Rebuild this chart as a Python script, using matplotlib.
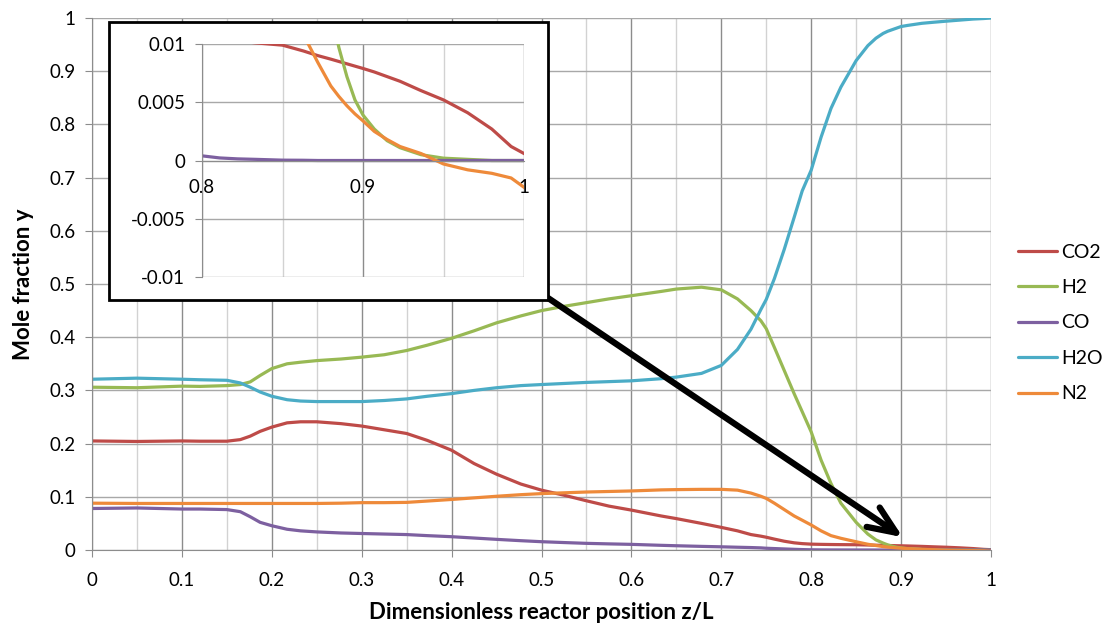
import matplotlib
matplotlib.use("Agg")
import matplotlib.pyplot as plt
from matplotlib.patches import Rectangle
from matplotlib.ticker import MultipleLocator, FuncFormatter

plt.rcParams["font.family"] = ["Lato", "DejaVu Sans"]

# Dimensionless reactor position z/L (shared by all species)
z = [0, 0.05, 0.1, 0.12, 0.15, 0.165, 0.176, 0.187, 0.2, 0.217, 0.232, 0.25,
     0.277, 0.3, 0.325, 0.35, 0.373, 0.4, 0.425, 0.45, 0.477, 0.5, 0.525,
     0.55, 0.575, 0.6, 0.633, 0.65, 0.678, 0.7, 0.718, 0.733, 0.744, 0.75,
     0.759, 0.77, 0.781, 0.79, 0.8, 0.811, 0.822, 0.833, 0.85, 0.863, 0.872,
     0.88, 0.885, 0.89, 0.895, 0.9, 0.907, 0.915, 0.923, 0.936, 0.95, 0.965,
     0.98, 0.992, 1.0]

# Mole fractions
y_co2 = [0.205, 0.204, 0.205, 0.2045, 0.2045, 0.2075, 0.214, 0.223, 0.231,
         0.239, 0.241, 0.241, 0.2375, 0.233, 0.226, 0.219, 0.206, 0.1875,
         0.1625, 0.1425, 0.124, 0.1125, 0.103, 0.0925, 0.0825, 0.075, 0.064,
         0.059, 0.050, 0.0425, 0.036, 0.029, 0.026, 0.024, 0.0205, 0.0165,
         0.0135, 0.012, 0.011, 0.0106, 0.0103, 0.0101, 0.0099, 0.0094, 0.0090,
         0.0087, 0.0085, 0.0083, 0.0081, 0.0079, 0.0076, 0.0072, 0.0068,
         0.0060, 0.0052, 0.0041, 0.0027, 0.0012, 0.0006]
y_h2 = [0.306, 0.305, 0.308, 0.3075, 0.309, 0.311, 0.316, 0.328, 0.341, 0.350,
        0.353, 0.356, 0.359, 0.3625, 0.367, 0.375, 0.385, 0.398, 0.412, 0.427,
        0.440, 0.450, 0.458, 0.465, 0.472, 0.478, 0.486, 0.4905, 0.494, 0.489,
        0.472, 0.450, 0.431, 0.416, 0.381, 0.3375, 0.294, 0.26, 0.222, 0.169,
        0.125, 0.088, 0.052, 0.030, 0.019, 0.013, 0.0097, 0.0072, 0.0052,
        0.0039, 0.0027, 0.0017, 0.0011, 0.0005, 0.0002, 0.0001, 0.0, 0.0, 0.0]
y_co = [0.078, 0.079, 0.077, 0.077, 0.076, 0.072, 0.0625, 0.052, 0.0456,
        0.039, 0.036, 0.034, 0.032, 0.031, 0.030, 0.029, 0.027, 0.025, 0.0225,
        0.020, 0.0175, 0.0156, 0.014, 0.0125, 0.0115, 0.0106, 0.0088, 0.008,
        0.0068, 0.006, 0.0052, 0.0046, 0.0040, 0.0033, 0.0027, 0.0020, 0.0013,
        0.0008, 0.0004, 0.00022, 0.00014, 0.0001, 0.00003, 0.00002, 0.0, 0.0,
        0.0, 0.0, 0.0, 0.0, 0.0, 0.0, 0.0, 0.0, 0.0, 0.0, 0.0, 0.0, 0.0]
y_h2o = [0.321, 0.323, 0.321, 0.320, 0.319, 0.314, 0.306, 0.297, 0.289,
         0.2825, 0.280, 0.279, 0.279, 0.279, 0.281, 0.284, 0.289, 0.294,
         0.300, 0.305, 0.309, 0.311, 0.313, 0.315, 0.3165, 0.318, 0.322, 0.325,
         0.332, 0.347, 0.377, 0.415, 0.452, 0.471, 0.51, 0.565, 0.625, 0.675,
         0.714, 0.776, 0.83, 0.87, 0.92, 0.948, 0.962, 0.971, 0.975, 0.978,
         0.981, 0.984, 0.986, 0.988, 0.990, 0.992, 0.994, 0.996, 0.998, 0.999,
         1.0]
y_n2 = [0.088, 0.0875, 0.0875, 0.0875, 0.0875, 0.0875, 0.0875, 0.0875, 0.0875,
        0.0875, 0.0875, 0.0875, 0.088, 0.089, 0.089, 0.0895, 0.092, 0.095,
        0.098, 0.101, 0.104, 0.106, 0.1075, 0.109, 0.110, 0.111, 0.113, 0.1135,
        0.114, 0.114, 0.1125, 0.107, 0.101, 0.097, 0.088, 0.076, 0.064, 0.056,
        0.047, 0.036, 0.027, 0.022, 0.0155, 0.0108, 0.0084, 0.0064, 0.0055,
        0.0047, 0.0040, 0.0034, 0.0025, 0.0018, 0.0012, 0.0006, -0.0003,
        -0.0008, -0.0011, -0.0015, -0.0023]

species = ["CO2", "H2", "CO", "H2O", "N2"]
series = [y_co2, y_h2, y_co, y_h2o, y_n2]
colors = ["#BE4B48", "#98B954", "#7D60A0", "#4BACC6", "#EE8A3A"]

GRID_MAJOR = "#8C8C8C"
GRID_MINOR = "#D2D2D2"
GRID_Y = "#A8A8A8"


def trim_zeros(v, _pos):
    return f"{round(v, 4):g}"


def style_grid(ax, x_major, x_minor, y_major):
    ax.xaxis.set_major_locator(MultipleLocator(x_major))
    ax.xaxis.set_minor_locator(MultipleLocator(x_minor))
    ax.yaxis.set_major_locator(MultipleLocator(y_major))
    ax.xaxis.set_major_formatter(FuncFormatter(trim_zeros))
    ax.yaxis.set_major_formatter(FuncFormatter(trim_zeros))
    ax.grid(True, which="major", axis="x", color=GRID_MAJOR, lw=1.0)
    ax.grid(True, which="minor", axis="x", color=GRID_MINOR, lw=1.0)
    ax.grid(True, which="major", axis="y", color=GRID_Y, lw=1.0)
    ax.set_axisbelow(True)
    for side in ["top", "right"]:
        ax.spines[side].set_visible(False)
    for side in ["left", "bottom"]:
        ax.spines[side].set_color(GRID_MAJOR)
    ax.tick_params(which="minor", length=0)


def main():
    fig = plt.figure(figsize=(11.08, 6.32), dpi=100)

    # Main chart
    ax = fig.add_axes([92 / 1108, 1 - 550 / 632, 899 / 1108, 532 / 632])
    handles = []
    for name, vals, c in zip(species, series, colors):
        (ln,) = ax.plot(z, vals, color=c, lw=2.3, label=name,
                        solid_joinstyle="round", solid_capstyle="round")
        handles.append(ln)
    ax.set_xlim(0, 1)
    ax.set_ylim(0, 1)
    style_grid(ax, 0.1, 0.05, 0.1)
    ax.tick_params(which="major", length=5, color=GRID_MAJOR, labelsize=13.5)
    ax.tick_params(axis="x", pad=11)
    ax.tick_params(axis="y", pad=7)
    ax.set_xlabel("Dimensionless reactor position z/L", fontsize=16,
                  fontweight="bold", labelpad=9)
    ax.set_ylabel("Mole fraction y", fontsize=16, fontweight="bold", labelpad=11)

    # Arrow from the zoom box down to the tail of the curves
    ax.annotate("", xy=(0.902, 0.024), xytext=(0.507, 0.474),
                arrowprops=dict(arrowstyle="->,head_length=1.0,head_width=0.42",
                                lw=4.5, color="black", shrinkA=0, shrinkB=0,
                                mutation_scale=20),
                annotation_clip=False)

    # White box with black border behind the inset
    frame = Rectangle((109 / 1108, 1 - 300 / 632), 439 / 1108, 278 / 632,
                      transform=fig.transFigure, facecolor="white",
                      edgecolor="black", lw=2.0, zorder=1)
    fig.patches.append(frame)

    # Inset: zoom on the outlet region
    ax_in = fig.add_axes([202 / 1108, 1 - 277 / 632, 322 / 1108, 233 / 632])
    ax_in.set_zorder(2)
    ax_in.patch.set_alpha(0)
    for vals, c in zip(series, colors):
        ax_in.plot(z, vals, color=c, lw=2.3, solid_joinstyle="round")
    ax_in.set_xlim(0.8, 1.0)
    ax_in.set_ylim(-0.01, 0.01)
    style_grid(ax_in, 0.1, 0.05, 0.005)
    ax_in.spines["bottom"].set_position(("data", 0))
    ax_in.tick_params(axis="y", which="major", length=5, color=GRID_MAJOR,
                      labelsize=13.5, pad=7)
    ax_in.tick_params(axis="x", which="major", length=0, labelsize=13.5, pad=13)

    fig.legend(handles, species, loc="center left",
               bbox_to_anchor=(1018 / 1108, 1 - 323 / 632), frameon=False,
               fontsize=14, handlelength=2.0, handletextpad=0.2,
               labelspacing=0.95, borderpad=0, borderaxespad=0)

    fig.savefig("out.png", dpi=100)


if __name__ == "__main__":
    main()
